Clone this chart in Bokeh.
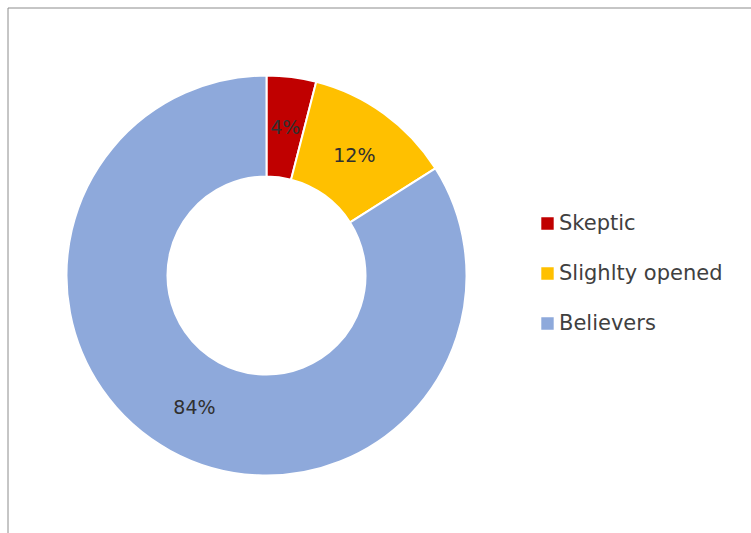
import math
from bokeh.plotting import figure
from bokeh.models import Range1d, ColumnDataSource, Legend, LegendItem
from bokeh.embed import file_html
from bokeh.resources import INLINE
from bokeh.core.properties import value

categories = ["Skeptic", "Slighlty opened", "Believers"]
shares = [4, 12, 84]
labels = ["4%", "12%", "84%"]
colors = ["#C00000", "#FFC000", "#8EA9DB"]

W, H = 751, 533
p = figure(width=W, height=H, output_backend="svg", toolbar_location=None,
           x_range=Range1d(0, W), y_range=Range1d(0, H), min_border=0,
           outline_line_color=None)
p.axis.visible = False
p.grid.visible = False

# chart-area border (left and top edges visible)
p.segment(x0=[7.5, 7.5], y0=[0, H - 7.5], x1=[7.5, W], y1=[H - 7.5, H - 7.5],
          line_color="#8c8c8c", line_width=1)

cx, cy = 266, 258
r_in, r_out = 99, 200
total = sum(shares)
starts, ends, lx, ly = [], [], [], []
cum = 0
for s in shares:
    a0 = math.pi / 2 - 2 * math.pi * cum / total
    cum += s
    a1 = math.pi / 2 - 2 * math.pi * cum / total
    starts.append(a0)
    ends.append(a1)
    mid = (a0 + a1) / 2
    rm = (r_in + r_out) / 2
    lx.append(cx + rm * math.cos(mid))
    ly.append(cy + rm * math.sin(mid))

src = ColumnDataSource(dict(cat=categories, start=starts, end=ends, color=colors,
                            x=[cx] * 3, y=[cy] * 3, lx=lx, ly=ly, lab=labels))
r = p.annular_wedge(x="x", y="y", inner_radius=r_in, outer_radius=r_out,
                    start_angle="start", end_angle="end", direction="clock",
                    fill_color="color", line_color="white", line_width=2, source=src)
p.text(x="lx", y="ly", text="lab", source=src, text_align="center",
       text_baseline="middle", text_font=value("DejaVu Sans"),
       text_font_size="19px", text_color="#303030")

items = [LegendItem(label=c, renderers=[r], index=i) for i, c in enumerate(categories)]
legend = Legend(items=items, location=(538, 198), padding=0, margin=0,
                spacing=26, label_height=22, glyph_height=18, glyph_width=18,
                label_standoff=3, label_text_font="DejaVu Sans",
                label_text_font_size="21px", label_text_color="#404040",
                border_line_color=None, background_fill_alpha=0)
p.add_layout(legend)

open("out.html", "w").write(file_html(p, INLINE))
